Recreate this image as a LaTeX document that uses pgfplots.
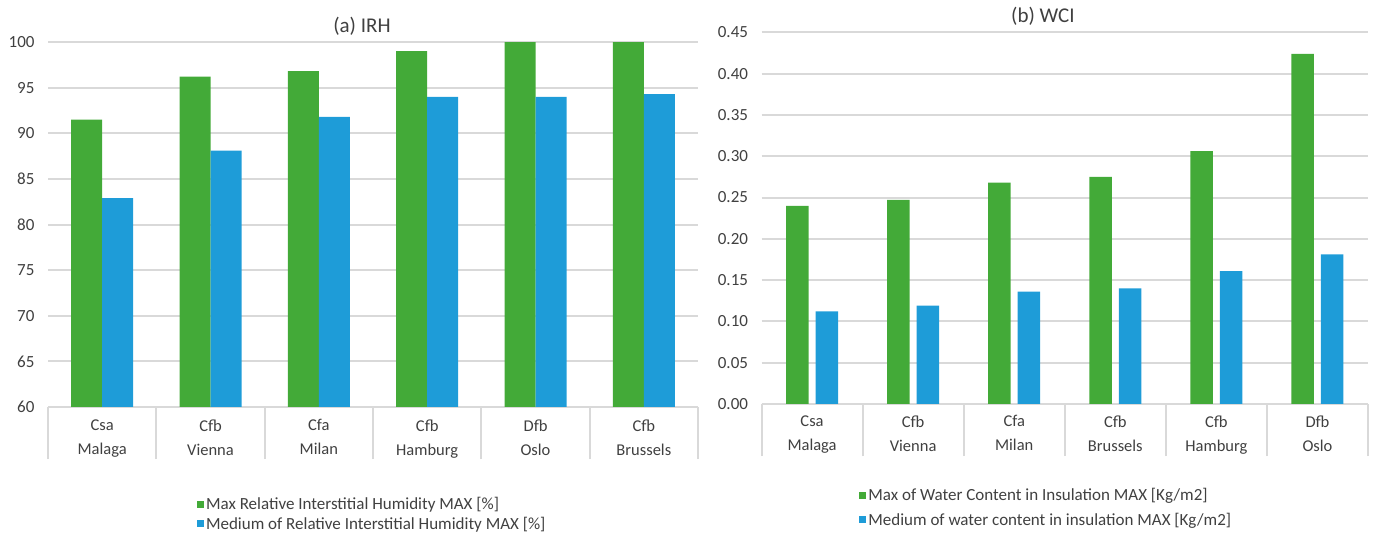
\documentclass[border=0pt]{standalone}
\usepackage{fontspec}
\setmainfont{Carlito}
\usepackage{pgfplots}
\usepackage{pgfplotstable}
\pgfplotsset{compat=1.18}

\definecolor{barGreen}{RGB}{67,170,56}
\definecolor{barBlue}{RGB}{30,156,216}
\definecolor{gridGray}{RGB}{217,217,217}
\definecolor{txt}{RGB}{64,64,64}

% Interstitial relative humidity [%]: max and medium per city
\pgfplotstableread{
idx maxrh medrh
0   91.5  82.9
1   96.2  88.1
2   96.8  91.8
3   99.0  94.0
4   100.0 94.0
5   100.0 94.3
}\irhdata

% Water content in insulation [kg/m2]: max and medium per city
\pgfplotstableread{
idx maxwc medwc
0   0.240 0.112
1   0.247 0.119
2   0.268 0.136
3   0.275 0.140
4   0.306 0.161
5   0.424 0.181
}\wcidata

\pgfplotsset{
  climate/.style={
    scale only axis,
    anchor=south west,
    ybar,
    xmin=-0.5, xmax=5.5,
    xtick={0,...,5},
    axis line style={draw=none},
    ymajorgrids,
    grid style={gridGray, line width=2bp},
    major tick length=0pt,
    tick pos=left,
    tick align=outside,
    extra x ticks={-0.5,0.5,...,5.5},
    extra x tick labels={},
    extra x tick style={major tick length=52bp, tick style={gridGray, line width=2bp}},
    /pgf/number format/assume math mode=true,
    tick label style={font=\fontsize{17bp}{20bp}\selectfont, text=txt},
    yticklabel style={xshift=-10bp},
    xticklabel style={align=center, font=\fontsize{16.5bp}{24bp}\selectfont, yshift=-9bp},
    title style={font=\fontsize{21bp}{24bp}\selectfont, text=txt, anchor=center},
    legend style={draw=none, fill=none, anchor=north west, inner sep=0pt,
      font=\fontsize{17bp}{20bp}\selectfont, text=txt, row sep=2bp},
    legend cell align=left,
    % plain square keys in the legend
    every axis plot post/.append style={
      legend image code/.code={\fill[####1, draw=none] (0bp,-3.5bp) rectangle (7bp,3.5bp);}},
  },
}

\begin{document}
\begin{tikzpicture}
\useasboundingbox (0,0) rectangle (1378bp,538bp);

% (a) interstitial relative humidity
\begin{axis}[climate,
  at={(48bp,131bp)}, width=650bp, height=365bp,
  ymin=60, ymax=100, ytick={60,65,...,100},
  bar width=31bp, ybar=0bp,
  xticklabels={{Csa\\Malaga},{Cfb\\Vienna},{Cfa\\Milan},{Cfb\\Hamburg},{Dfb\\Oslo},{Cfb\\Brussels}},
  title={(a) IRH},
  title style={at={(axis description cs:0.483,1)}, yshift=10bp},
  legend style={at={(axis description cs:0.229,-0.241)}},
]
\addplot[fill=barGreen, draw=none] table[x=idx, y=maxrh] {\irhdata};
\addlegendentry{Max Relative Interstitial Humidity MAX [\%]}
\addplot[fill=barBlue, draw=none] table[x=idx, y=medrh] {\irhdata};
\addlegendentry{Medium of Relative Interstitial Humidity MAX [\%]}
\end{axis}

% (b) water content in insulation
\begin{axis}[climate,
  at={(761.5bp,134bp)}, width=606.5bp, height=371.7bp,
  ymin=0, ymax=0.45, ytick={0,0.05,0.10,0.15,0.20,0.25,0.30,0.35,0.40,0.45},
  yticklabel style={/pgf/number format/fixed, /pgf/number format/fixed zerofill, /pgf/number format/precision=2},
  xticklabel style={yshift=1bp},
  bar width=22.5bp, ybar=7bp,
  xticklabels={{Csa\\Malaga},{Cfb\\Vienna},{Cfa\\Milan},{Cfb\\Brussels},{Cfb\\Hamburg},{Dfb\\Oslo}},
  title={(b) WCI},
  title style={at={(axis description cs:0.464,1)}, yshift=10bp},
  legend style={at={(axis description cs:0.161,-0.2206)}, row sep=7bp},
]
\addplot[fill=barGreen, draw=none] table[x=idx, y=maxwc] {\wcidata};
\addlegendentry{Max of Water Content in Insulation MAX [Kg/m2]}
\addplot[fill=barBlue, draw=none] table[x=idx, y=medwc] {\wcidata};
\addlegendentry{Medium of water content in insulation MAX [Kg/m2]}
\end{axis}
\end{tikzpicture}
\end{document}
